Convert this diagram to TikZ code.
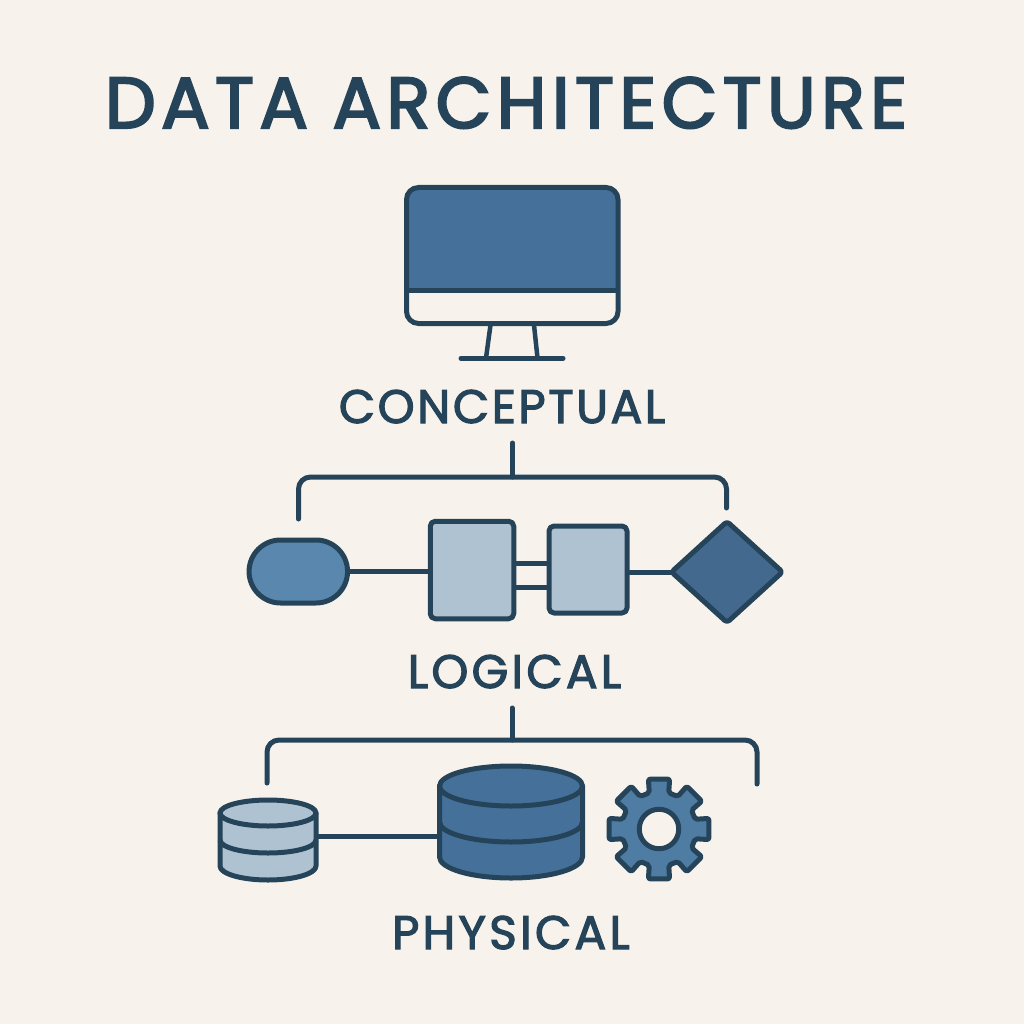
\documentclass[tikz,border=0pt]{standalone}
\usepackage{fontspec}
\setmainfont{Poppins}
\newfontfamily\titlefont[LetterSpace=7.5,FakeBold=3]{Poppins}
\newfontfamily\labelfont[LetterSpace=5.5,FakeBold=2.5]{Poppins}
\newfontfamily\shortlabelfont[LetterSpace=7,FakeBold=2.5]{Poppins}
\usetikzlibrary{shapes.geometric}
\definecolor{bgc}{HTML}{F7F3EC}
\definecolor{ink}{HTML}{264459}
\definecolor{deep}{HTML}{44709A}
\definecolor{diam}{HTML}{44698F}
\definecolor{mid}{HTML}{5A87AD}
\definecolor{pale}{HTML}{AFC2D2}
\definecolor{gearc}{HTML}{4F7CA3}
\tikzset{
  outline/.style={draw=ink,line width=5pt,line join=round},
  wire/.style={draw=ink,line width=5pt,line cap=round},
  bracket/.style={wire,rounded corners=12pt},
  box/.style={outline,fill=pale,rounded corners=5pt,inner sep=0pt,outer sep=0pt},
  head/.style={text=ink,anchor=base,inner sep=0pt},
}
\begin{document}
\begin{tikzpicture}[x=1pt,y=-1pt]
\useasboundingbox (0,0) rectangle (1024,1024);
\fill[bgc] (0,0) rectangle (1024,1024);

\node[head,font=\titlefont\fontsize{72}{72}\selectfont] (title) at (506,128) {DATA ARCHITECTURE};

% monitor
\fill[deep,rounded corners=12pt] (406.5,300) -- (406.5,187.5) -- (618,187.5) -- (618,300) -- cycle;
\fill[bgc] (404,290) rectangle (620,303);
\node[outline,rounded corners=12pt,minimum width=211.5pt,minimum height=136pt,inner sep=0pt] (monitor) at (512.25,255.5) {};
\draw[wire,line cap=butt] (406.5,290) -- (618,290);
\draw[wire,line cap=butt,line width=4.5pt] (490.5,325) -- (486,358);
\draw[wire,line cap=butt,line width=4.5pt] (534,325) -- (537.5,358);
\draw[wire] (461,358.3) -- (563,358.3);

\node[head,font=\labelfont\fontsize{47}{47}\selectfont] (concept) at (502,423) {CONCEPTUAL};

% first bracket
\coordinate (s1) at (512.5,443);
\coordinate (j1) at (512.5,477);
\coordinate (l1) at (298.5,519);
\coordinate (r1) at (726.5,508);
\draw[bracket] (l1) |- (j1) -| (r1);
\draw[wire] (s1) -- (j1);

% logical row
\node[outline,fill=mid,rounded corners=31.5pt,minimum width=98.5pt,minimum height=63pt,inner sep=0pt,outer sep=0pt] (pill) at (298.3,571.5) {};
\node[box,minimum width=83.5pt,minimum height=97.5pt] (boxa) at (472,570) {};
\node[box,minimum width=78pt,minimum height=87pt] (boxb) at (588,569.5) {};
\node[outline,fill=diam,diamond,aspect=1,rounded corners=3pt,minimum width=111pt,minimum height=101pt,inner sep=0pt,outer sep=0pt] (dia) at (727,572) {};
\draw[wire,line cap=butt] (pill.east) -- (boxa.west |- pill.east);
\draw[wire,line cap=butt] ([yshift=7pt]boxa.east) -- ([yshift=7pt]boxa.east -| boxb.west);
\draw[wire,line cap=butt] ([yshift=-17pt]boxa.east) -- ([yshift=-17pt]boxa.east -| boxb.west);
\draw[wire,line cap=butt] (boxb.east |- dia.west) -- (dia.west);

\node[head,font=\shortlabelfont\fontsize{47}{47}\selectfont] (logic) at (514.5,688) {LOGICAL};

% second bracket
\coordinate (s2) at (512,708);
\coordinate (j2) at (512,740);
\coordinate (l2) at (267,783);
\coordinate (r2) at (757,784);
\draw[bracket] (l2) |- (j2) -| (r2);
\draw[wire] (s2) -- (j2);

% link between the cylinders
\coordinate (dba) at (318,836);
\coordinate (dbb) at (439,836);
\draw[wire,line cap=butt] (dba) -- (dbb);

% small cylinder
\path[outline,fill=pale] (220,813) -- (220,866) arc[start angle=180,end angle=0,x radius=48,y radius=14] -- (316,813) -- cycle;
\draw[outline,fill=pale] (268,813) ellipse[x radius=48,y radius=13];
\draw[outline] (220,840) arc[start angle=180,end angle=0,x radius=48,y radius=13];

% large cylinder
\path[outline,fill=deep] (439.5,786) -- (439.5,857) arc[start angle=180,end angle=0,x radius=71.5,y radius=21] -- (582.5,786) -- cycle;
\draw[outline,fill=deep] (511,786) ellipse[x radius=71.5,y radius=20];
\draw[outline] (439.5,822) arc[start angle=180,end angle=0,x radius=71.5,y radius=20];

% gear
\begin{scope}[shift={(659,829)}]
\draw[outline,fill=gearc,rounded corners=2pt] (-15:37.5)
  \foreach \a in {0,45,...,315} { -- (\a-15:37.5) -- (\a-12:51) -- (\a+12:51) -- (\a+15:37.5) } -- cycle;
\node[outline,fill=bgc,circle,minimum size=39.5pt,inner sep=0pt] (hole) at (0,0) {};
\end{scope}

\node[head,font=\shortlabelfont\fontsize{47}{47}\selectfont] (phys) at (511,949) {PHYSICAL};
\end{tikzpicture}
\end{document}
